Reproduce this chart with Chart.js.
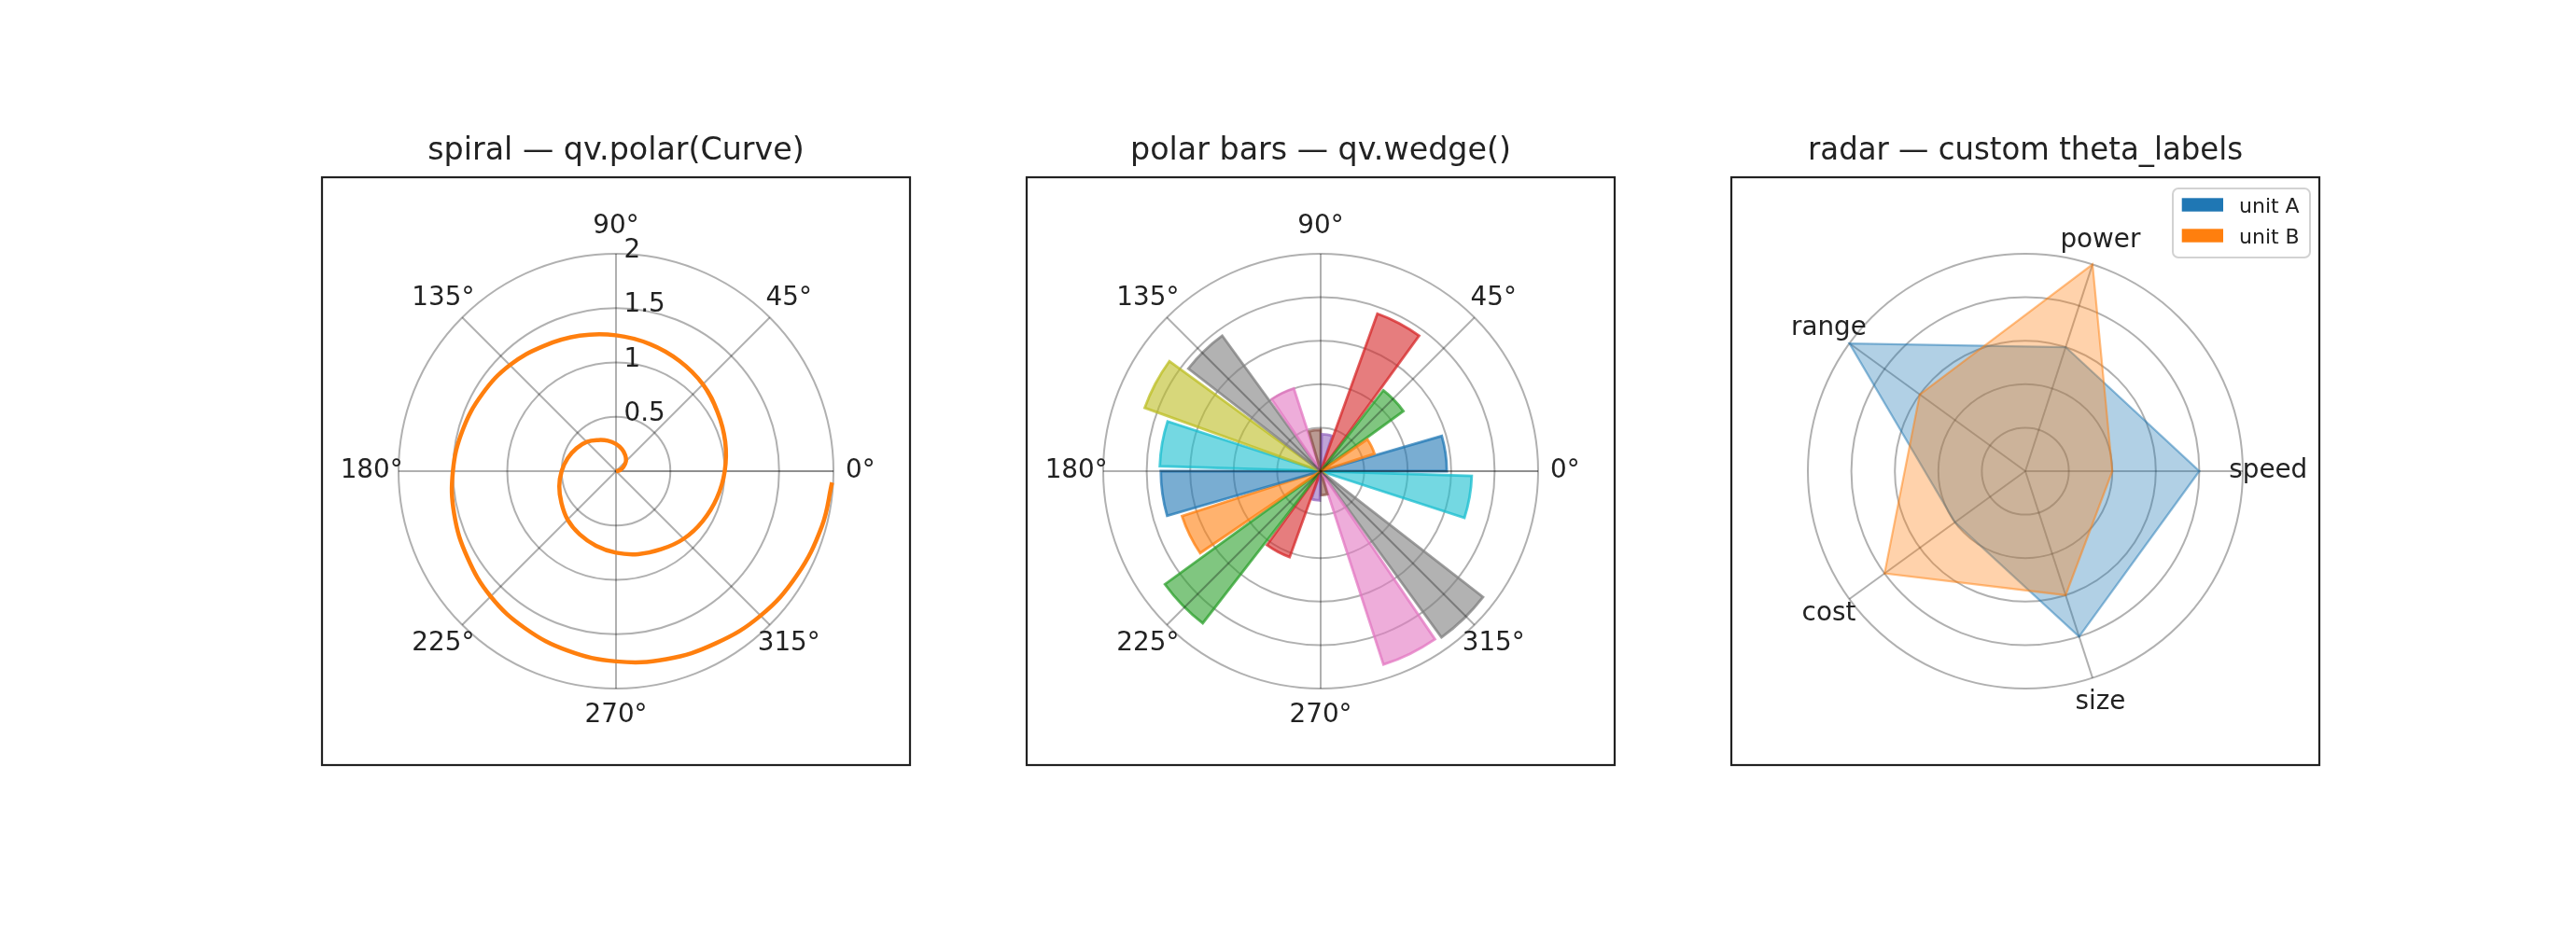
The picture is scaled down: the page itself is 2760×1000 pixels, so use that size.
<!DOCTYPE html>
<html>
<head>
<meta charset="utf-8">
<script src="https://cdn.jsdelivr.net/npm/chart.js@4.4.1/dist/chart.umd.min.js"></script>
<style>
  html, body { margin: 0; padding: 0; background: #fff; }
  body { width: 2760px; height: 1000px; position: relative; overflow: hidden; }
  .panel { position: absolute; top: 120px; width: 642px; height: 706px; }
</style>
</head>
<body>
<div class="panel" style="left:339px"><canvas id="spiral" width="642" height="706"></canvas></div>
<div class="panel" style="left:1094px"><canvas id="bars" width="642" height="706"></canvas></div>
<div class="panel" style="left:1849px"><canvas id="radar" width="642" height="706"></canvas></div>
<script>
// ---- data ----

// spiral: angle in degrees, radius
var spiralTheta = [0, 15, 30, 45, 60, 75, 90, 105, 120, 135, 150, 165, 180,
  195, 210, 225, 240, 255, 270, 285, 300, 315, 330, 345, 360,
  375, 390, 405, 420, 435, 450, 465, 480, 495, 510, 525, 540,
  555, 570, 585, 600, 615, 630, 645, 660, 675, 690, 705, 717];
var spiralR = [0.00, 0.04, 0.08, 0.13, 0.17, 0.21, 0.25, 0.29, 0.33, 0.38, 0.42, 0.46, 0.50,
  0.54, 0.58, 0.63, 0.67, 0.71, 0.75, 0.79, 0.83, 0.88, 0.92, 0.96, 1.00,
  1.04, 1.08, 1.13, 1.17, 1.21, 1.25, 1.29, 1.33, 1.38, 1.42, 1.46, 1.50,
  1.54, 1.58, 1.63, 1.67, 1.71, 1.75, 1.79, 1.83, 1.88, 1.92, 1.96, 1.99];
var spiralTicks = [0.5, 1, 1.5, 2];

// polar bars: start angle (deg), radius, common width (deg)
var barTheta = [0, 18, 36, 54, 72, 90, 108, 126, 144, 162, 180, 198, 216, 234, 252, 270, 288, 306, 324, 342];
var barR = [5.8, 2.6, 4.7, 7.7, 1.7, 1.9, 4.0, 7.7, 8.6, 7.4, 7.35, 6.7, 8.85, 4.2, 1.35, 1.1, 9.35, 9.45, 0.1, 6.95];
var barWidth = 16.2;
var barTicks = [2, 4, 6, 8, 10];

// radar
var radarLabels = ['speed', 'power', 'range', 'cost', 'size'];
var unitA = [4, 3, 5, 2, 4];
var unitB = [2, 5, 3, 4, 3];

var angleTicks = [0, 45, 90, 135, 180, 225, 270, 315];

// ---- styling ----
var tab10 = ['#1f77b4', '#ff7f0e', '#2ca02c', '#d62728', '#9467bd', '#8c564b', '#e377c2', '#7f7f7f', '#bcbd22', '#17becf'];
var FONT = '"DejaVu Sans", sans-serif';
var TXT = '#222222';
var GRID = 'rgba(0,0,0,0.31)';
var AXIS0 = 'rgba(0,0,0,0.44)';
var PAD = 82;          // gap between the square frame and the polar circle
var TICK_SIZE = 27.8;

function rgba(hex, a) {
  var n = parseInt(hex.slice(1), 16);
  return 'rgba(' + (n >> 16) + ',' + ((n >> 8) & 255) + ',' + (n & 255) + ',' + a + ')';
}

// Chart.js sweeps clockwise, matplotlib counter-clockwise
function clockwise(a) { return [a[0]].concat(a.slice(1).reverse()); }

function titleOpts(text) {
  return {
    display: true, text: text, color: TXT,
    font: { family: FONT, size: 33.3, weight: 'normal', lineHeight: 1.2 },
    padding: { top: 22, bottom: 152 - 22 - 33.3 * 1.2 }
  };
}

function geom(chart) {
  var r = chart.scales.r;
  if (r) {
    return { x: r.xCenter, y: r.yCenter, R: r.drawingArea,
      px: function (v) { return r.getDistanceFromCenterForValue(v); } };
  }
  var sx = chart.scales.x, sy = chart.scales.y, x0 = sx.getPixelForValue(0);
  return { x: x0, y: sy.getPixelForValue(0), R: sx.getPixelForValue(sx.max) - x0,
    px: function (v) { return sx.getPixelForValue(v) - x0; } };
}

function at(g, deg, dist) {
  var a = deg * Math.PI / 180;
  return { x: g.x + dist * Math.cos(a), y: g.y - dist * Math.sin(a) };
}

function drawGrid(chart, o) {
  var ctx = chart.ctx, g = geom(chart);
  ctx.save();
  ctx.lineWidth = 2;
  ctx.strokeStyle = GRID;
  (o.rings || []).forEach(function (v) {
    ctx.beginPath();
    ctx.arc(g.x, g.y, g.px(v), 0, Math.PI * 2);
    ctx.stroke();
  });
  (o.spokes || []).forEach(function (d) {
    var p = at(g, d, g.R);
    ctx.strokeStyle = d === 0 ? AXIS0 : GRID;
    ctx.beginPath();
    ctx.moveTo(g.x, g.y);
    ctx.lineTo(p.x, p.y);
    ctx.stroke();
  });
  ctx.restore();
}

function drawText(chart, o) {
  var ctx = chart.ctx, g = geom(chart);
  ctx.save();
  ctx.fillStyle = TXT;
  ctx.font = TICK_SIZE + 'px ' + FONT;
  ctx.textAlign = 'center';
  ctx.textBaseline = 'middle';
  (o.thetaLabels || []).forEach(function (d) {
    var p = at(g, d, g.R * 1.124);
    ctx.fillText(d + '\u00b0', p.x, p.y);
  });
  if (o.scaleLabels) {
    var sc = chart.scales.r;
    chart.data.labels.forEach(function (lab, i) {
      var p = sc.getPointPosition(i, g.R * 1.117);
      ctx.fillText(lab, p.x, p.y);
    });
  }
  ctx.textAlign = 'left';
  (o.rLabels || []).forEach(function (v) {
    ctx.fillText(String(v), g.x + 8.5, g.y - g.px(v) - 3);
  });
  ctx.restore();
}

function drawFrame(chart) {
  var ctx = chart.ctx, ca = chart.chartArea;
  ctx.save();
  ctx.strokeStyle = '#222222';
  ctx.lineWidth = 2.2;
  ctx.strokeRect(ca.left - PAD, ca.top - PAD, ca.width + 2 * PAD, ca.height + 2 * PAD);
  ctx.restore();
}

function drawLegend(chart) {
  var ctx = chart.ctx, ca = chart.chartArea;
  var w = 147, h = 74;
  var left = ca.right + PAD - 10 - w, top = ca.top - PAD + 12;
  ctx.save();
  ctx.beginPath();
  ctx.roundRect(left, top, w, h, 6);
  ctx.fillStyle = 'rgba(255,255,255,0.8)';
  ctx.fill();
  ctx.strokeStyle = '#d2d2d2';
  ctx.lineWidth = 2;
  ctx.stroke();
  ctx.font = '22px ' + FONT;
  ctx.textAlign = 'left';
  ctx.textBaseline = 'alphabetic';
  chart.data.datasets.forEach(function (ds, i) {
    var y = top + 10.3 + i * 33;
    ctx.fillStyle = ds.solidColor;
    ctx.fillRect(left + 9.7, y, 44.3, 14.4);
    ctx.fillStyle = TXT;
    ctx.fillText(ds.label, left + 71, y + 15.4);
  });
  ctx.restore();
}

var polarDecor = {
  id: 'polarDecor',
  beforeDatasetsDraw: function (chart, args, o) {
    if (!o.gridOnTop) drawGrid(chart, o);
  },
  afterDraw: function (chart, args, o) {
    if (o.gridOnTop) drawGrid(chart, o);
    drawText(chart, o);
    drawFrame(chart);
    if (o.legend) drawLegend(chart);
  }
};

var common = {
  responsive: false,
  animation: false,
  events: [],
  layout: { padding: { left: 88, right: 88, top: 0, bottom: 88 } }
};

function opts(extra) {
  return Object.assign({}, common, extra);
}

// ---- panel 1: spiral ----
var spiralPoints = spiralTheta.map(function (t, i) {
  var a = t * Math.PI / 180;
  return { x: spiralR[i] * Math.cos(a), y: spiralR[i] * Math.sin(a) };
});

new Chart(document.getElementById('spiral'), {
  type: 'scatter',
  data: {
    datasets: [{
      data: spiralPoints,
      showLine: true,
      borderColor: '#ff7f0e',
      borderWidth: 4.5,
      borderCapStyle: 'butt',
      borderJoinStyle: 'round',
      pointRadius: 0,
      tension: 0.4,
      capBezierPoints: false,
      clip: 12
    }]
  },
  options: opts({
    scales: {
      x: { type: 'linear', min: -2, max: 2, display: false },
      y: { type: 'linear', min: -2, max: 2, display: false }
    },
    plugins: {
      legend: { display: false },
      tooltip: { enabled: false },
      title: titleOpts('spiral \u2014 qv.polar(Curve)'),
      polarDecor: { rings: spiralTicks, spokes: angleTicks, thetaLabels: angleTicks, rLabels: spiralTicks }
    }
  }),
  plugins: [polarDecor]
});

// ---- panel 2: polar bars ----
// Chart.js lays arcs end to end clockwise, so walk the bars clockwise
// and put a transparent gap element between neighbours.
var seq = clockwise(barTheta.map(function (t, i) { return i; }));
var wedgeR = [], wedgeAngle = [], wedgeColor = [], wedgeLabels = [];
seq.forEach(function (i, k) {
  var next = seq[(k + 1) % seq.length];
  wedgeR.push(barR[i]);
  wedgeAngle.push(barWidth);
  wedgeColor.push(tab10[i % 10]);
  wedgeLabels.push(barTheta[i] + '\u00b0');
  wedgeR.push(0);
  wedgeAngle.push((((barTheta[i] - barTheta[next] - barWidth) % 360) + 360) % 360);
  wedgeColor.push(null);
  wedgeLabels.push('');
});

new Chart(document.getElementById('bars'), {
  type: 'polarArea',
  data: {
    labels: wedgeLabels,
    datasets: [{
      data: wedgeR,
      angle: function (c) { return wedgeAngle[c.dataIndex]; },
      backgroundColor: function (c) {
        var col = wedgeColor[c.dataIndex];
        return col ? rgba(col, 0.6) : 'rgba(0,0,0,0)';
      },
      borderColor: function (c) {
        var col = wedgeColor[c.dataIndex];
        return col ? rgba(col, 0.75) : 'rgba(0,0,0,0)';
      },
      borderWidth: function (c) { return wedgeColor[c.dataIndex] ? 2.8 : 0; },
      borderJoinStyle: 'miter',
      borderAlign: 'center'
    }]
  },
  options: opts({
    scales: {
      r: {
        min: 0, max: barTicks[barTicks.length - 1],
        startAngle: 90 - (barTheta[0] + barWidth),
        ticks: { display: false, stepSize: barTicks[1] - barTicks[0] },
        grid: { color: GRID, lineWidth: 2, circular: true },
        angleLines: { display: false },
        pointLabels: { display: false },
        z: 1
      }
    },
    plugins: {
      legend: { display: false },
      tooltip: { enabled: false },
      title: titleOpts('polar bars \u2014 qv.wedge()'),
      polarDecor: { gridOnTop: true, spokes: angleTicks, thetaLabels: angleTicks }
    }
  }),
  plugins: [polarDecor]
});

// ---- panel 3: radar ----
new Chart(document.getElementById('radar'), {
  type: 'radar',
  data: {
    labels: clockwise(radarLabels),
    datasets: [{
      label: 'unit A',
      solidColor: tab10[0],
      data: clockwise(unitA),
      backgroundColor: rgba(tab10[0], 0.35),
      borderColor: rgba(tab10[0], 0.5),
      borderWidth: 2.2,
      pointRadius: 0,
      fill: true,
      order: 2
    }, {
      label: 'unit B',
      solidColor: tab10[1],
      data: clockwise(unitB),
      backgroundColor: rgba(tab10[1], 0.35),
      borderColor: rgba(tab10[1], 0.5),
      borderWidth: 2.2,
      pointRadius: 0,
      fill: true,
      order: 1
    }]
  },
  options: opts({
    elements: { line: { tension: 0, borderJoinStyle: 'miter' } },
    scales: {
      r: {
        min: 0, max: 5,
        startAngle: 90,
        ticks: { display: false, stepSize: 1 },
        grid: { color: GRID, lineWidth: 2, circular: true },
        angleLines: { display: true, color: GRID, lineWidth: 2 },
        pointLabels: { display: false },
        z: 1
      }
    },
    plugins: {
      legend: { display: false },
      tooltip: { enabled: false },
      title: titleOpts('radar \u2014 custom theta_labels'),
      polarDecor: { gridOnTop: true, scaleLabels: true, legend: true }
    }
  }),
  plugins: [polarDecor]
});
</script>
</body>
</html>
